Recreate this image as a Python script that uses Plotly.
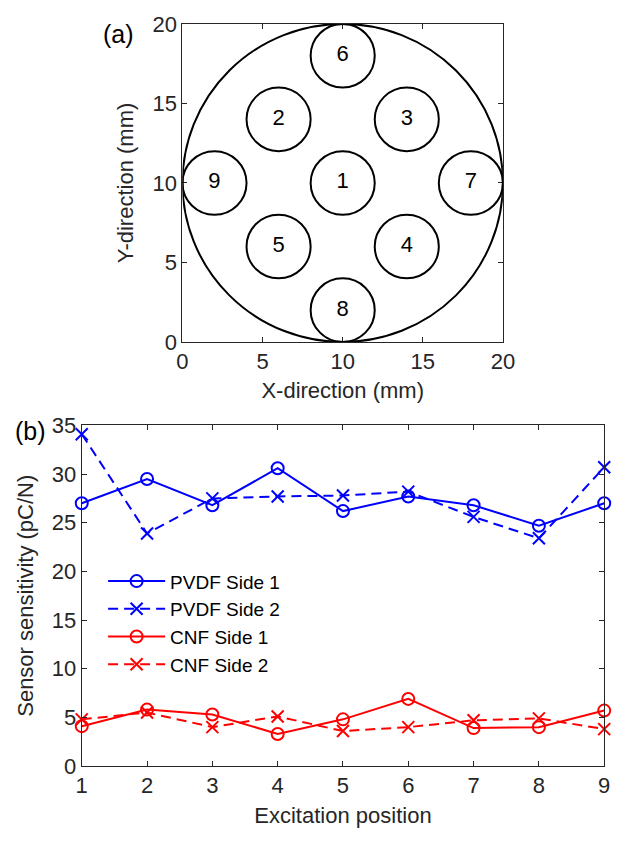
import plotly.graph_objects as go

# ---------------- data ----------------
# (a) sensor layout: disc and excitation positions (mm)
disc_center = (10, 10)
disc_radius = 10
pos_labels = ["1", "2", "3", "4", "5", "6", "7", "8", "9"]
pos_x = [10, 6, 14, 14, 6, 10, 18, 10, 2]
pos_y = [10, 14, 14, 6, 6, 18, 10, 2, 10]
pos_radius = 2

# (b) sensitivity
positions = [1, 2, 3, 4, 5, 6, 7, 8, 9]
pvdf_side1 = [27.0, 29.5, 26.8, 30.6, 26.2, 27.7, 26.8, 24.7, 27.0]
pvdf_side2 = [34.1, 23.9, 27.5, 27.7, 27.8, 28.2, 25.6, 23.4, 30.7]
cnf_side1 = [4.1, 5.8, 5.3, 3.3, 4.8, 6.9, 3.9, 4.0, 5.7]
cnf_side2 = [4.8, 5.5, 4.0, 5.1, 3.6, 4.0, 4.7, 4.9, 3.8]

# ---------------- style ----------------
W, H = 623, 847
FONT = "Liberation Sans, Arial, sans-serif"
AX = "#262626"
BLUE = "rgb(0,0,255)"
RED = "rgb(255,0,0)"

fig = go.Figure()

# (a) number labels
fig.add_trace(go.Scatter(
    x=pos_x, y=pos_y, text=pos_labels, mode="text",
    textfont=dict(family=FONT, size=22, color="black"),
    xaxis="x", yaxis="y", showlegend=False, hoverinfo="skip",
))

shapes = [dict(type="circle", xref="x", yref="y",
               x0=disc_center[0] - disc_radius, x1=disc_center[0] + disc_radius,
               y0=disc_center[1] - disc_radius, y1=disc_center[1] + disc_radius,
               line=dict(color="black", width=2))]
for cx, cy in zip(pos_x, pos_y):
    shapes.append(dict(type="circle", xref="x", yref="y",
                       x0=cx - pos_radius, x1=cx + pos_radius,
                       y0=cy - pos_radius, y1=cy + pos_radius,
                       line=dict(color="black", width=2)))

# (b) series
series = [
    ("PVDF Side 1", pvdf_side1, BLUE, "solid", "circle-open"),
    ("PVDF Side 2", pvdf_side2, BLUE, "10px,6px", "x-thin-open"),
    ("CNF Side 1", cnf_side1, RED, "solid", "circle-open"),
    ("CNF Side 2", cnf_side2, RED, "10px,6px", "x-thin-open"),
]
for name, vals, col, dash, sym in series:
    fig.add_trace(go.Scatter(
        x=positions, y=vals, name=name, mode="lines+markers",
        line=dict(color=col, width=2, dash=dash),
        marker=dict(symbol=sym, size=12, color=col, line=dict(color=col, width=2)),
        xaxis="x2", yaxis="y2", cliponaxis=False,
    ))

axis_common = dict(
    showgrid=False, zeroline=False, showline=True, linecolor=AX, linewidth=1,
    mirror="allticks", ticks="inside", ticklen=5, tickcolor=AX, tickwidth=1,
    tickfont=dict(family=FONT, size=22, color=AX),
)

fig.update_layout(
    width=W, height=H,
    margin=dict(l=0, r=0, t=0, b=0),
    paper_bgcolor="white", plot_bgcolor="white",
    font=dict(family=FONT, size=22, color=AX),
    shapes=shapes,
    xaxis=dict(domain=[181.7 / W, 511.7 / W], range=[0, 20], tickvals=[0, 5, 10, 15, 20],
               anchor="y",
               title=dict(text="X-direction (mm)", font=dict(family=FONT, size=22, color=AX), standoff=9),
               **axis_common),
    yaxis=dict(domain=[1 - 340 / H, 1 - 12.3 / H], range=[0, 20], tickvals=[0, 5, 10, 15, 20],
               anchor="x",
               title=dict(text="Y-direction (mm)", font=dict(family=FONT, size=22, color=AX), standoff=12),
               **axis_common),
    xaxis2=dict(domain=[78 / W, 616 / W], range=[1, 9], tickvals=positions,
                anchor="y2",
                title=dict(text="Excitation position", font=dict(family=FONT, size=22, color=AX), standoff=10),
                **axis_common),
    yaxis2=dict(domain=[1 - 777 / H, 1 - 426 / H], range=[0, 35], tickvals=[0, 5, 10, 15, 20, 25, 30, 35],
                anchor="x2",
                title=dict(text="Sensor sensitivity (pC/N)", font=dict(family=FONT, size=22, color=AX), standoff=12),
                **axis_common),
    legend=dict(x=100 / W, y=1 - 567 / H, xanchor="left", yanchor="top",
                bgcolor="rgba(255,255,255,0)", borderwidth=0,
                font=dict(family=FONT, size=19, color="black"),
                tracegroupgap=0, itemwidth=57),
    annotations=[
        dict(text="(a)", xref="paper", yref="paper", x=116 / W, y=1 - 23 / H,
             xanchor="center", yanchor="middle", showarrow=False,
             font=dict(family=FONT, size=25, color="black")),
        dict(text="(b)", xref="paper", yref="paper", x=25 / W, y=1 - 432 / H,
             xanchor="center", yanchor="middle", showarrow=False,
             font=dict(family=FONT, size=25, color="black")),
    ],
)

fig.write_html(
    "out.html",
    post_script="document.body.style.margin='0';document.body.style.overflow='hidden';",
)
